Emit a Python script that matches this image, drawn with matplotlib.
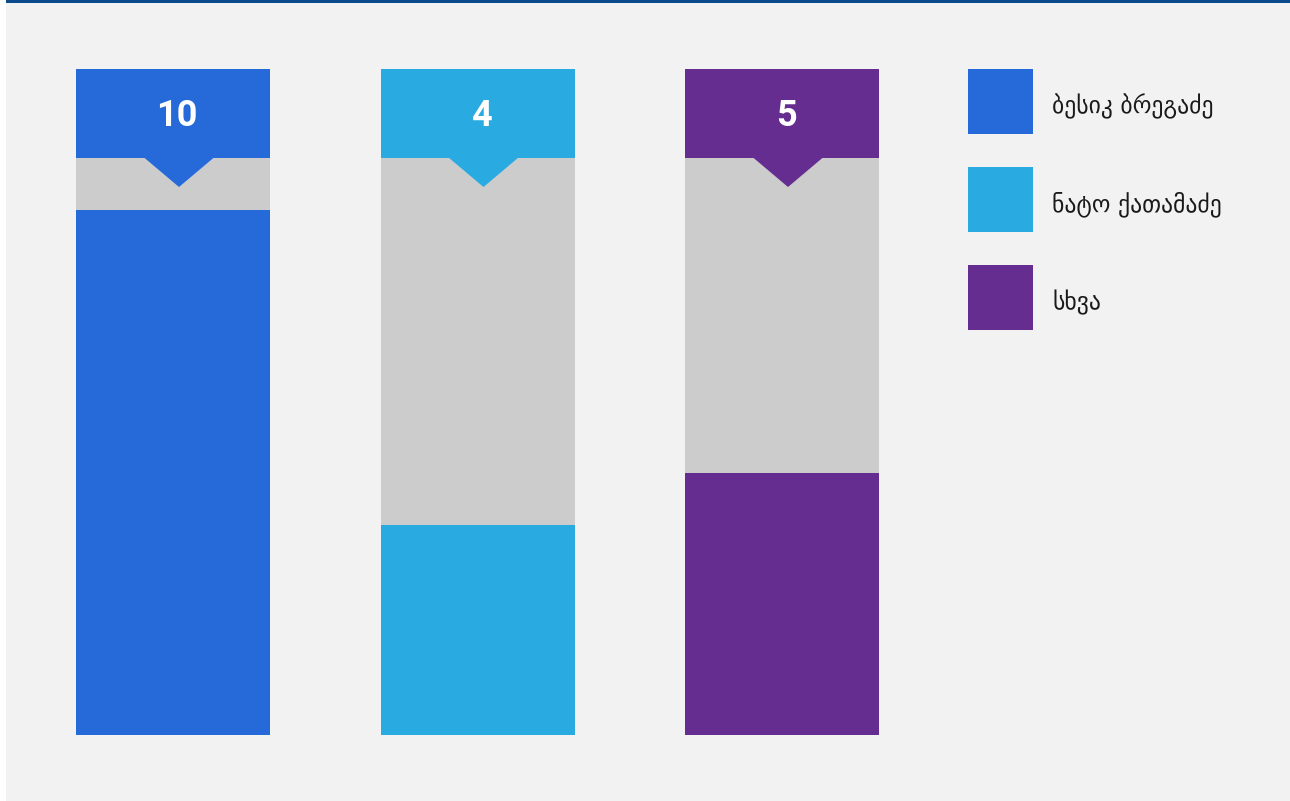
import matplotlib
matplotlib.use("Agg")
import matplotlib.pyplot as plt
from matplotlib.patches import Rectangle, Polygon

names = ["ბესიკ ბრეგაძე", "ნატო ქათამაძე", "სხვა"]
values = [10, 4, 5]
colors = ["#266AD9", "#29ABE2", "#662D91"]
track_color = "#CCCCCC"
bg_color = "#F2F2F2"

W, H = 1290, 801
fig = plt.figure(figsize=(W / 100, H / 100), dpi=100)
fig.patch.set_facecolor("white")

def px_axes(x0, y0, x1, y1, **kw):
    # pixel box (top-left origin) -> figure fraction axes
    return fig.add_axes([x0 / W, 1 - y1 / H, (x1 - x0) / W, (y1 - y0) / H], **kw)

# background panel and top rule
bg = fig.add_axes([0, 0, 1, 1], zorder=-5)
bg.set_xlim(0, W)
bg.set_ylim(H, 0)
bg.axis("off")
bg.add_patch(Rectangle((6, 0), W - 6, H, facecolor=bg_color, edgecolor="none"))
bg.add_patch(Rectangle((6, 0), W - 6, 2.5, facecolor="#0B4A8B", edgecolor="none"))

spacing = 304.5
centers_px = 173
left_px = centers_px - 0.5 * spacing
right_px = left_px + 3 * spacing
bar_w = 194 / spacing
ymax = max(values) * 1.1
x = list(range(len(values)))

# main bars
ax = px_axes(left_px, 158, right_px, 735)
ax.set_xlim(-0.5, 2.5)
ax.set_ylim(0, ymax)
ax.bar(x, [ymax] * len(values), width=bar_w, color=track_color, zorder=1)
ax.bar(x, values, width=bar_w, color=colors, zorder=2)
ax.axis("off")

# header boxes
hx = px_axes(left_px, 69, right_px, 158)
hx.set_xlim(-0.5, 2.5)
hx.set_ylim(0, 1)
hx.axis("off")
hx.bar(x, [1] * len(values), width=bar_w, bottom=0, color=colors, zorder=2)
tri_half = 34.5 / spacing
tri_depth = 29 / 89
shift = 6 / spacing
text_shift = 4 / spacing
for xi, v, c in zip(x, values, colors):
    cx = xi + shift
    hx.add_patch(Polygon([(cx - tri_half, 0.001), (cx + tri_half, 0.001), (cx, -tri_depth)],
                         closed=True, facecolor=c, edgecolor="none", clip_on=False, zorder=3))
    hx.text(xi + text_shift, (158 - 126) / 89, str(v), ha="center", va="baseline", color="white",
            fontsize=26, fontweight="bold", family=["Roboto", "DejaVu Sans"], zorder=4)

# legend
for i, (n, c) in enumerate(zip(names, colors)):
    top = 69 + i * 98
    lx = px_axes(968, top, 1033, top + 65)
    lx.axis("off")
    lx.add_patch(Rectangle((0, 0), 1, 1, transform=lx.transAxes, facecolor=c, edgecolor="none"))
    fig.text(1052 / W, 1 - (top + 37) / H, n, ha="left", va="center", fontsize=17,
             color="#1a1a1a", family=["DejaVu Sans", "Noto Sans"])

fig.savefig("out.png", dpi=100, facecolor=fig.get_facecolor())
